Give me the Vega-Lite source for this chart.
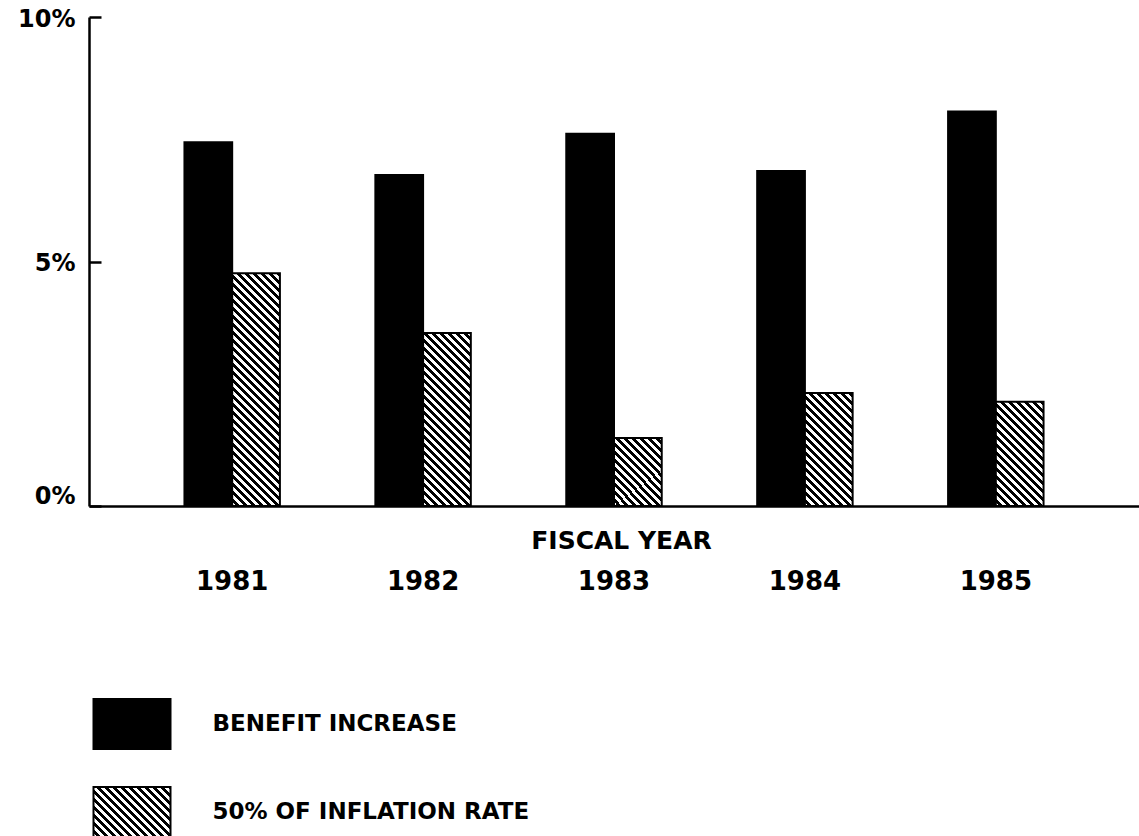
{
  "$schema": "https://vega.github.io/schema/vega-lite/v6.json",
  "width": 1050,
  "height": 489,
  "autosize": {"type": "none"},
  "padding": {"left": 89, "top": 17, "right": 0, "bottom": 330},
  "background": "white",
  "config": {"view": {"stroke": null}},
  "data": {
    "values": [
      {"year": "1981", "series": "BENEFIT INCREASE", "value": 7.44},
      {"year": "1981", "series": "50% OF INFLATION RATE", "value": 4.76},
      {"year": "1982", "series": "BENEFIT INCREASE", "value": 6.77},
      {"year": "1982", "series": "50% OF INFLATION RATE", "value": 3.54},
      {"year": "1983", "series": "BENEFIT INCREASE", "value": 7.61},
      {"year": "1983", "series": "50% OF INFLATION RATE", "value": 1.39},
      {"year": "1984", "series": "BENEFIT INCREASE", "value": 6.85},
      {"year": "1984", "series": "50% OF INFLATION RATE", "value": 2.31},
      {"year": "1985", "series": "BENEFIT INCREASE", "value": 8.07},
      {"year": "1985", "series": "50% OF INFLATION RATE", "value": 2.13}
    ]
  },
  "mark": {"type": "bar", "stroke": "black", "strokeWidth": 2},
  "encoding": {
    "x": {
      "field": "year", "type": "nominal",
      "scale": {"paddingInner": 0.5, "paddingOuter": 0.5},
      "axis": {
        "title": "FISCAL YEAR", "titleFont": "DejaVu Sans", "titleFontSize": 25, "titleFontWeight": "bold", "titleColor": "black",
        "titleY": 42, "titleX": 532, "titleBaseline": "alphabetic",
        "labelAngle": 0, "labelFont": "DejaVu Sans", "labelFontSize": 26, "labelFontWeight": "bold", "labelColor": "black",
        "labelBaseline": "alphabetic", "labelPadding": 83,
        "ticks": false, "tickSize": 0, "domainColor": "black", "domainWidth": 2.5, "grid": false
      }
    },
    "xOffset": {"field": "series", "type": "nominal", "scale": {"domain": ["BENEFIT INCREASE", "50% OF INFLATION RATE"]}},
    "y": {
      "field": "value", "type": "quantitative",
      "scale": {"domain": [0, 10], "nice": false},
      "axis": {
        "title": null, "values": [0, 5, 10], "labelExpr": "datum.value + '%'",
        "domainColor": "black", "domainWidth": 2.5, "tickColor": "black", "tickWidth": 2.5, "tickSize": -12,
        "labelFont": "DejaVu Sans", "labelFontSize": 24, "labelFontWeight": "bold", "labelColor": "black",
        "labelPadding": 26, "grid": false,
        "labelOffset": {"condition": {"test": "datum.value === 0", "value": -10}, "value": 2}
      }
    },
    "fill": {
      "field": "series", "type": "nominal",
      "scale": {
        "domain": ["BENEFIT INCREASE", "50% OF INFLATION RATE"],
        "range": ["black", {"expr": "{gradient:'linear',x1:0,y1:1,x2:1.4616,y2:0.0509,stops:[{offset:0,color:'#fff'},{offset:0.025,color:'#fff'},{offset:0.025,color:'#000'},{offset:0.05,color:'#000'},{offset:0.05,color:'#fff'},{offset:0.075,color:'#fff'},{offset:0.075,color:'#000'},{offset:0.1,color:'#000'},{offset:0.1,color:'#fff'},{offset:0.125,color:'#fff'},{offset:0.125,color:'#000'},{offset:0.15,color:'#000'},{offset:0.15,color:'#fff'},{offset:0.175,color:'#fff'},{offset:0.175,color:'#000'},{offset:0.2,color:'#000'},{offset:0.2,color:'#fff'},{offset:0.225,color:'#fff'},{offset:0.225,color:'#000'},{offset:0.25,color:'#000'},{offset:0.25,color:'#fff'},{offset:0.275,color:'#fff'},{offset:0.275,color:'#000'},{offset:0.3,color:'#000'},{offset:0.3,color:'#fff'},{offset:0.325,color:'#fff'},{offset:0.325,color:'#000'},{offset:0.35,color:'#000'},{offset:0.35,color:'#fff'},{offset:0.375,color:'#fff'},{offset:0.375,color:'#000'},{offset:0.4,color:'#000'},{offset:0.4,color:'#fff'},{offset:0.425,color:'#fff'},{offset:0.425,color:'#000'},{offset:0.45,color:'#000'},{offset:0.45,color:'#fff'},{offset:0.475,color:'#fff'},{offset:0.475,color:'#000'},{offset:0.5,color:'#000'},{offset:0.5,color:'#fff'},{offset:0.525,color:'#fff'},{offset:0.525,color:'#000'},{offset:0.55,color:'#000'},{offset:0.55,color:'#fff'},{offset:0.575,color:'#fff'},{offset:0.575,color:'#000'},{offset:0.6,color:'#000'},{offset:0.6,color:'#fff'},{offset:0.625,color:'#fff'},{offset:0.625,color:'#000'},{offset:0.65,color:'#000'},{offset:0.65,color:'#fff'},{offset:0.675,color:'#fff'},{offset:0.675,color:'#000'},{offset:0.7,color:'#000'},{offset:0.7,color:'#fff'},{offset:0.725,color:'#fff'},{offset:0.725,color:'#000'},{offset:0.75,color:'#000'},{offset:0.75,color:'#fff'},{offset:0.775,color:'#fff'},{offset:0.775,color:'#000'},{offset:0.8,color:'#000'},{offset:0.8,color:'#fff'},{offset:0.825,color:'#fff'},{offset:0.825,color:'#000'},{offset:0.85,color:'#000'}]}"}]
      },
      "condition": [
        {"test": "datum.series === '50% OF INFLATION RATE' && datum.year === '1981'",
         "value": {"gradient": "linear", "x1": 0, "y1": 1, "x2": 0.2705, "y2": -0.3191, "stops": [
          {"offset":0,"color":"#fff"},{"offset":0.0125,"color":"#fff"},{"offset":0.0125,"color":"#000"},{"offset":0.025,"color":"#000"},
          {"offset":0.025,"color":"#fff"},{"offset":0.0375,"color":"#fff"},{"offset":0.0375,"color":"#000"},{"offset":0.05,"color":"#000"},
          {"offset":0.05,"color":"#fff"},{"offset":0.0625,"color":"#fff"},{"offset":0.0625,"color":"#000"},{"offset":0.075,"color":"#000"},
          {"offset":0.075,"color":"#fff"},{"offset":0.0875,"color":"#fff"},{"offset":0.0875,"color":"#000"},{"offset":0.1,"color":"#000"},
          {"offset":0.1,"color":"#fff"},{"offset":0.1125,"color":"#fff"},{"offset":0.1125,"color":"#000"},{"offset":0.125,"color":"#000"},
          {"offset":0.125,"color":"#fff"},{"offset":0.1375,"color":"#fff"},{"offset":0.1375,"color":"#000"},{"offset":0.15,"color":"#000"},
          {"offset":0.15,"color":"#fff"},{"offset":0.1625,"color":"#fff"},{"offset":0.1625,"color":"#000"},{"offset":0.175,"color":"#000"},
          {"offset":0.175,"color":"#fff"},{"offset":0.1875,"color":"#fff"},{"offset":0.1875,"color":"#000"},{"offset":0.2,"color":"#000"},
          {"offset":0.2,"color":"#fff"},{"offset":0.2125,"color":"#fff"},{"offset":0.2125,"color":"#000"},{"offset":0.225,"color":"#000"},
          {"offset":0.225,"color":"#fff"},{"offset":0.2375,"color":"#fff"},{"offset":0.2375,"color":"#000"},{"offset":0.25,"color":"#000"},
          {"offset":0.25,"color":"#fff"},{"offset":0.2625,"color":"#fff"},{"offset":0.2625,"color":"#000"},{"offset":0.275,"color":"#000"},
          {"offset":0.275,"color":"#fff"},{"offset":0.2875,"color":"#fff"},{"offset":0.2875,"color":"#000"},{"offset":0.3,"color":"#000"},
          {"offset":0.3,"color":"#fff"},{"offset":0.3125,"color":"#fff"},{"offset":0.3125,"color":"#000"},{"offset":0.325,"color":"#000"},
          {"offset":0.325,"color":"#fff"},{"offset":0.3375,"color":"#fff"},{"offset":0.3375,"color":"#000"},{"offset":0.35,"color":"#000"},
          {"offset":0.35,"color":"#fff"},{"offset":0.3625,"color":"#fff"},{"offset":0.3625,"color":"#000"},{"offset":0.375,"color":"#000"},
          {"offset":0.375,"color":"#fff"},{"offset":0.3875,"color":"#fff"},{"offset":0.3875,"color":"#000"},{"offset":0.4,"color":"#000"},
          {"offset":0.4,"color":"#fff"},{"offset":0.4125,"color":"#fff"},{"offset":0.4125,"color":"#000"},{"offset":0.425,"color":"#000"},
          {"offset":0.425,"color":"#fff"},{"offset":0.4375,"color":"#fff"},{"offset":0.4375,"color":"#000"},{"offset":0.45,"color":"#000"},
          {"offset":0.45,"color":"#fff"},{"offset":0.4625,"color":"#fff"},{"offset":0.4625,"color":"#000"},{"offset":0.475,"color":"#000"},
          {"offset":0.475,"color":"#fff"},{"offset":0.4875,"color":"#fff"},{"offset":0.4875,"color":"#000"},{"offset":0.5,"color":"#000"},
          {"offset":0.5,"color":"#fff"},{"offset":0.5125,"color":"#fff"},{"offset":0.5125,"color":"#000"},{"offset":0.525,"color":"#000"},
          {"offset":0.525,"color":"#fff"},{"offset":0.5375,"color":"#fff"},{"offset":0.5375,"color":"#000"},{"offset":0.55,"color":"#000"},
          {"offset":0.55,"color":"#fff"},{"offset":0.5625,"color":"#fff"},{"offset":0.5625,"color":"#000"},{"offset":0.575,"color":"#000"},
          {"offset":0.575,"color":"#fff"},{"offset":0.5875,"color":"#fff"},{"offset":0.5875,"color":"#000"},{"offset":0.6,"color":"#000"},
          {"offset":0.6,"color":"#fff"},{"offset":0.6125,"color":"#fff"},{"offset":0.6125,"color":"#000"},{"offset":0.625,"color":"#000"},
          {"offset":0.625,"color":"#fff"},{"offset":0.6375,"color":"#fff"},{"offset":0.6375,"color":"#000"},{"offset":0.65,"color":"#000"},
          {"offset":0.65,"color":"#fff"},{"offset":0.6625,"color":"#fff"},{"offset":0.6625,"color":"#000"},{"offset":0.675,"color":"#000"},
          {"offset":0.675,"color":"#fff"},{"offset":0.6875,"color":"#fff"},{"offset":0.6875,"color":"#000"},{"offset":0.7,"color":"#000"},
          {"offset":0.7,"color":"#fff"},{"offset":0.7125,"color":"#fff"},{"offset":0.7125,"color":"#000"},{"offset":0.725,"color":"#000"},
          {"offset":0.725,"color":"#fff"},{"offset":0.7375,"color":"#fff"},{"offset":0.7375,"color":"#000"},{"offset":0.75,"color":"#000"},
          {"offset":0.75,"color":"#fff"},{"offset":0.7625,"color":"#fff"},{"offset":0.7625,"color":"#000"},{"offset":0.775,"color":"#000"},
          {"offset":0.775,"color":"#fff"},{"offset":0.7875,"color":"#fff"},{"offset":0.7875,"color":"#000"},{"offset":0.8,"color":"#000"},
          {"offset":0.8,"color":"#fff"},{"offset":0.8125,"color":"#fff"},{"offset":0.8125,"color":"#000"},{"offset":0.825,"color":"#000"},
          {"offset":0.825,"color":"#fff"},{"offset":0.8375,"color":"#fff"},{"offset":0.8375,"color":"#000"},{"offset":0.85,"color":"#000"},
          {"offset":0.85,"color":"#fff"},{"offset":0.8625,"color":"#fff"},{"offset":0.8625,"color":"#000"},{"offset":0.875,"color":"#000"},
          {"offset":0.875,"color":"#fff"},{"offset":0.8875,"color":"#fff"},{"offset":0.8875,"color":"#000"},{"offset":0.9,"color":"#000"}
         ]}},
        {"test": "datum.series === '50% OF INFLATION RATE' && datum.year === '1982'",
         "value": {"gradient": "linear", "x1": 0, "y1": 1, "x2": 0.4737, "y2": -0.718, "stops": [
          {"offset":0,"color":"#fff"},{"offset":0.0125,"color":"#fff"},{"offset":0.0125,"color":"#000"},{"offset":0.025,"color":"#000"},
          {"offset":0.025,"color":"#fff"},{"offset":0.0375,"color":"#fff"},{"offset":0.0375,"color":"#000"},{"offset":0.05,"color":"#000"},
          {"offset":0.05,"color":"#fff"},{"offset":0.0625,"color":"#fff"},{"offset":0.0625,"color":"#000"},{"offset":0.075,"color":"#000"},
          {"offset":0.075,"color":"#fff"},{"offset":0.0875,"color":"#fff"},{"offset":0.0875,"color":"#000"},{"offset":0.1,"color":"#000"},
          {"offset":0.1,"color":"#fff"},{"offset":0.1125,"color":"#fff"},{"offset":0.1125,"color":"#000"},{"offset":0.125,"color":"#000"},
          {"offset":0.125,"color":"#fff"},{"offset":0.1375,"color":"#fff"},{"offset":0.1375,"color":"#000"},{"offset":0.15,"color":"#000"},
          {"offset":0.15,"color":"#fff"},{"offset":0.1625,"color":"#fff"},{"offset":0.1625,"color":"#000"},{"offset":0.175,"color":"#000"},
          {"offset":0.175,"color":"#fff"},{"offset":0.1875,"color":"#fff"},{"offset":0.1875,"color":"#000"},{"offset":0.2,"color":"#000"},
          {"offset":0.2,"color":"#fff"},{"offset":0.2125,"color":"#fff"},{"offset":0.2125,"color":"#000"},{"offset":0.225,"color":"#000"},
          {"offset":0.225,"color":"#fff"},{"offset":0.2375,"color":"#fff"},{"offset":0.2375,"color":"#000"},{"offset":0.25,"color":"#000"},
          {"offset":0.25,"color":"#fff"},{"offset":0.2625,"color":"#fff"},{"offset":0.2625,"color":"#000"},{"offset":0.275,"color":"#000"},
          {"offset":0.275,"color":"#fff"},{"offset":0.2875,"color":"#fff"},{"offset":0.2875,"color":"#000"},{"offset":0.3,"color":"#000"},
          {"offset":0.3,"color":"#fff"},{"offset":0.3125,"color":"#fff"},{"offset":0.3125,"color":"#000"},{"offset":0.325,"color":"#000"},
          {"offset":0.325,"color":"#fff"},{"offset":0.3375,"color":"#fff"},{"offset":0.3375,"color":"#000"},{"offset":0.35,"color":"#000"},
          {"offset":0.35,"color":"#fff"},{"offset":0.3625,"color":"#fff"},{"offset":0.3625,"color":"#000"},{"offset":0.375,"color":"#000"},
          {"offset":0.375,"color":"#fff"},{"offset":0.3875,"color":"#fff"},{"offset":0.3875,"color":"#000"},{"offset":0.4,"color":"#000"},
          {"offset":0.4,"color":"#fff"},{"offset":0.4125,"color":"#fff"},{"offset":0.4125,"color":"#000"},{"offset":0.425,"color":"#000"},
          {"offset":0.425,"color":"#fff"},{"offset":0.4375,"color":"#fff"},{"offset":0.4375,"color":"#000"},{"offset":0.45,"color":"#000"},
          {"offset":0.45,"color":"#fff"},{"offset":0.4625,"color":"#fff"},{"offset":0.4625,"color":"#000"},{"offset":0.475,"color":"#000"},
          {"offset":0.475,"color":"#fff"},{"offset":0.4875,"color":"#fff"},{"offset":0.4875,"color":"#000"},{"offset":0.5,"color":"#000"},
          {"offset":0.5,"color":"#fff"},{"offset":0.5125,"color":"#fff"},{"offset":0.5125,"color":"#000"},{"offset":0.525,"color":"#000"},
          {"offset":0.525,"color":"#fff"},{"offset":0.5375,"color":"#fff"},{"offset":0.5375,"color":"#000"},{"offset":0.55,"color":"#000"},
          {"offset":0.55,"color":"#fff"},{"offset":0.5625,"color":"#fff"},{"offset":0.5625,"color":"#000"},{"offset":0.575,"color":"#000"},
          {"offset":0.575,"color":"#fff"},{"offset":0.5875,"color":"#fff"},{"offset":0.5875,"color":"#000"},{"offset":0.6,"color":"#000"},
          {"offset":0.6,"color":"#fff"},{"offset":0.6125,"color":"#fff"},{"offset":0.6125,"color":"#000"},{"offset":0.625,"color":"#000"},
          {"offset":0.625,"color":"#fff"},{"offset":0.6375,"color":"#fff"},{"offset":0.6375,"color":"#000"},{"offset":0.65,"color":"#000"},
          {"offset":0.65,"color":"#fff"},{"offset":0.6625,"color":"#fff"},{"offset":0.6625,"color":"#000"},{"offset":0.675,"color":"#000"},
          {"offset":0.675,"color":"#fff"},{"offset":0.6875,"color":"#fff"},{"offset":0.6875,"color":"#000"},{"offset":0.7,"color":"#000"},
          {"offset":0.7,"color":"#fff"},{"offset":0.7125,"color":"#fff"},{"offset":0.7125,"color":"#000"},{"offset":0.725,"color":"#000"},
          {"offset":0.725,"color":"#fff"},{"offset":0.7375,"color":"#fff"},{"offset":0.7375,"color":"#000"},{"offset":0.75,"color":"#000"}
         ]}},
        {"test": "datum.series === '50% OF INFLATION RATE' && datum.year === '1983'",
         "value": {"gradient": "linear", "x1": 0, "y1": 1, "x2": 1.1071, "y2": -0.5766, "stops": [
          {"offset":0,"color":"#fff"},{"offset":0.025,"color":"#fff"},{"offset":0.025,"color":"#000"},{"offset":0.05,"color":"#000"},
          {"offset":0.05,"color":"#fff"},{"offset":0.075,"color":"#fff"},{"offset":0.075,"color":"#000"},{"offset":0.1,"color":"#000"},
          {"offset":0.1,"color":"#fff"},{"offset":0.125,"color":"#fff"},{"offset":0.125,"color":"#000"},{"offset":0.15,"color":"#000"},
          {"offset":0.15,"color":"#fff"},{"offset":0.175,"color":"#fff"},{"offset":0.175,"color":"#000"},{"offset":0.2,"color":"#000"},
          {"offset":0.2,"color":"#fff"},{"offset":0.225,"color":"#fff"},{"offset":0.225,"color":"#000"},{"offset":0.25,"color":"#000"},
          {"offset":0.25,"color":"#fff"},{"offset":0.275,"color":"#fff"},{"offset":0.275,"color":"#000"},{"offset":0.3,"color":"#000"},
          {"offset":0.3,"color":"#fff"},{"offset":0.325,"color":"#fff"},{"offset":0.325,"color":"#000"},{"offset":0.35,"color":"#000"},
          {"offset":0.35,"color":"#fff"},{"offset":0.375,"color":"#fff"},{"offset":0.375,"color":"#000"},{"offset":0.4,"color":"#000"},
          {"offset":0.4,"color":"#fff"},{"offset":0.425,"color":"#fff"},{"offset":0.425,"color":"#000"},{"offset":0.45,"color":"#000"},
          {"offset":0.45,"color":"#fff"},{"offset":0.475,"color":"#fff"},{"offset":0.475,"color":"#000"},{"offset":0.5,"color":"#000"},
          {"offset":0.5,"color":"#fff"},{"offset":0.525,"color":"#fff"},{"offset":0.525,"color":"#000"},{"offset":0.55,"color":"#000"},
          {"offset":0.55,"color":"#fff"},{"offset":0.575,"color":"#fff"},{"offset":0.575,"color":"#000"},{"offset":0.6,"color":"#000"},
          {"offset":0.6,"color":"#fff"},{"offset":0.625,"color":"#fff"},{"offset":0.625,"color":"#000"},{"offset":0.65,"color":"#000"},
          {"offset":0.65,"color":"#fff"},{"offset":0.675,"color":"#fff"},{"offset":0.675,"color":"#000"},{"offset":0.7,"color":"#000"},
          {"offset":0.7,"color":"#fff"},{"offset":0.725,"color":"#fff"},{"offset":0.725,"color":"#000"},{"offset":0.75,"color":"#000"},
          {"offset":0.75,"color":"#fff"},{"offset":0.775,"color":"#fff"},{"offset":0.775,"color":"#000"},{"offset":0.8,"color":"#000"}
         ]}},
        {"test": "datum.series === '50% OF INFLATION RATE' && datum.year === '1984'",
         "value": {"gradient": "linear", "x1": 0, "y1": 1, "x2": 0.5078, "y2": -0.2019, "stops": [
          {"offset":0,"color":"#fff"},{"offset":0.025,"color":"#fff"},{"offset":0.025,"color":"#000"},{"offset":0.05,"color":"#000"},
          {"offset":0.05,"color":"#fff"},{"offset":0.075,"color":"#fff"},{"offset":0.075,"color":"#000"},{"offset":0.1,"color":"#000"},
          {"offset":0.1,"color":"#fff"},{"offset":0.125,"color":"#fff"},{"offset":0.125,"color":"#000"},{"offset":0.15,"color":"#000"},
          {"offset":0.15,"color":"#fff"},{"offset":0.175,"color":"#fff"},{"offset":0.175,"color":"#000"},{"offset":0.2,"color":"#000"},
          {"offset":0.2,"color":"#fff"},{"offset":0.225,"color":"#fff"},{"offset":0.225,"color":"#000"},{"offset":0.25,"color":"#000"},
          {"offset":0.25,"color":"#fff"},{"offset":0.275,"color":"#fff"},{"offset":0.275,"color":"#000"},{"offset":0.3,"color":"#000"},
          {"offset":0.3,"color":"#fff"},{"offset":0.325,"color":"#fff"},{"offset":0.325,"color":"#000"},{"offset":0.35,"color":"#000"},
          {"offset":0.35,"color":"#fff"},{"offset":0.375,"color":"#fff"},{"offset":0.375,"color":"#000"},{"offset":0.4,"color":"#000"},
          {"offset":0.4,"color":"#fff"},{"offset":0.425,"color":"#fff"},{"offset":0.425,"color":"#000"},{"offset":0.45,"color":"#000"},
          {"offset":0.45,"color":"#fff"},{"offset":0.475,"color":"#fff"},{"offset":0.475,"color":"#000"},{"offset":0.5,"color":"#000"},
          {"offset":0.5,"color":"#fff"},{"offset":0.525,"color":"#fff"},{"offset":0.525,"color":"#000"},{"offset":0.55,"color":"#000"},
          {"offset":0.55,"color":"#fff"},{"offset":0.575,"color":"#fff"},{"offset":0.575,"color":"#000"},{"offset":0.6,"color":"#000"},
          {"offset":0.6,"color":"#fff"},{"offset":0.625,"color":"#fff"},{"offset":0.625,"color":"#000"},{"offset":0.65,"color":"#000"},
          {"offset":0.65,"color":"#fff"},{"offset":0.675,"color":"#fff"},{"offset":0.675,"color":"#000"},{"offset":0.7,"color":"#000"},
          {"offset":0.7,"color":"#fff"},{"offset":0.725,"color":"#fff"},{"offset":0.725,"color":"#000"},{"offset":0.75,"color":"#000"},
          {"offset":0.75,"color":"#fff"},{"offset":0.775,"color":"#fff"},{"offset":0.775,"color":"#000"},{"offset":0.8,"color":"#000"},
          {"offset":0.8,"color":"#fff"},{"offset":0.825,"color":"#fff"},{"offset":0.825,"color":"#000"},{"offset":0.85,"color":"#000"},
          {"offset":0.85,"color":"#fff"},{"offset":0.875,"color":"#fff"},{"offset":0.875,"color":"#000"},{"offset":0.9,"color":"#000"},
          {"offset":0.9,"color":"#fff"},{"offset":0.925,"color":"#fff"},{"offset":0.925,"color":"#000"},{"offset":0.95,"color":"#000"},
          {"offset":0.95,"color":"#fff"},{"offset":0.975,"color":"#fff"},{"offset":0.975,"color":"#000"},{"offset":1,"color":"#000"}
         ]}},
        {"test": "datum.series === '50% OF INFLATION RATE' && datum.year === '1985'",
         "value": {"gradient": "linear", "x1": 0, "y1": 1, "x2": 0.5818, "y2": -0.2696, "stops": [
          {"offset":0,"color":"#fff"},{"offset":0.025,"color":"#fff"},{"offset":0.025,"color":"#000"},{"offset":0.05,"color":"#000"},
          {"offset":0.05,"color":"#fff"},{"offset":0.075,"color":"#fff"},{"offset":0.075,"color":"#000"},{"offset":0.1,"color":"#000"},
          {"offset":0.1,"color":"#fff"},{"offset":0.125,"color":"#fff"},{"offset":0.125,"color":"#000"},{"offset":0.15,"color":"#000"},
          {"offset":0.15,"color":"#fff"},{"offset":0.175,"color":"#fff"},{"offset":0.175,"color":"#000"},{"offset":0.2,"color":"#000"},
          {"offset":0.2,"color":"#fff"},{"offset":0.225,"color":"#fff"},{"offset":0.225,"color":"#000"},{"offset":0.25,"color":"#000"},
          {"offset":0.25,"color":"#fff"},{"offset":0.275,"color":"#fff"},{"offset":0.275,"color":"#000"},{"offset":0.3,"color":"#000"},
          {"offset":0.3,"color":"#fff"},{"offset":0.325,"color":"#fff"},{"offset":0.325,"color":"#000"},{"offset":0.35,"color":"#000"},
          {"offset":0.35,"color":"#fff"},{"offset":0.375,"color":"#fff"},{"offset":0.375,"color":"#000"},{"offset":0.4,"color":"#000"},
          {"offset":0.4,"color":"#fff"},{"offset":0.425,"color":"#fff"},{"offset":0.425,"color":"#000"},{"offset":0.45,"color":"#000"},
          {"offset":0.45,"color":"#fff"},{"offset":0.475,"color":"#fff"},{"offset":0.475,"color":"#000"},{"offset":0.5,"color":"#000"},
          {"offset":0.5,"color":"#fff"},{"offset":0.525,"color":"#fff"},{"offset":0.525,"color":"#000"},{"offset":0.55,"color":"#000"},
          {"offset":0.55,"color":"#fff"},{"offset":0.575,"color":"#fff"},{"offset":0.575,"color":"#000"},{"offset":0.6,"color":"#000"},
          {"offset":0.6,"color":"#fff"},{"offset":0.625,"color":"#fff"},{"offset":0.625,"color":"#000"},{"offset":0.65,"color":"#000"},
          {"offset":0.65,"color":"#fff"},{"offset":0.675,"color":"#fff"},{"offset":0.675,"color":"#000"},{"offset":0.7,"color":"#000"},
          {"offset":0.7,"color":"#fff"},{"offset":0.725,"color":"#fff"},{"offset":0.725,"color":"#000"},{"offset":0.75,"color":"#000"},
          {"offset":0.75,"color":"#fff"},{"offset":0.775,"color":"#fff"},{"offset":0.775,"color":"#000"},{"offset":0.8,"color":"#000"},
          {"offset":0.8,"color":"#fff"},{"offset":0.825,"color":"#fff"},{"offset":0.825,"color":"#000"},{"offset":0.85,"color":"#000"},
          {"offset":0.85,"color":"#fff"},{"offset":0.875,"color":"#fff"},{"offset":0.875,"color":"#000"},{"offset":0.9,"color":"#000"},
          {"offset":0.9,"color":"#fff"},{"offset":0.925,"color":"#fff"},{"offset":0.925,"color":"#000"},{"offset":0.95,"color":"#000"},
          {"offset":0.95,"color":"#fff"},{"offset":0.975,"color":"#fff"},{"offset":0.975,"color":"#000"},{"offset":1,"color":"#000"}
         ]}}
      ],
      "legend": {
        "title": null, "orient": "none", "legendX": 3.5, "legendY": 667.5, "padding": 0, "direction": "vertical",
        "symbolType": "M-1,-0.65H1V0.65H-1Z", "symbolSize": 5929,
        "symbolStrokeColor": "black", "symbolStrokeWidth": 2,
        "labelFont": "DejaVu Sans", "labelFontSize": 23, "labelFontWeight": "bold", "labelColor": "black",
        "labelOffset": 41, "rowPadding": 19, "labelLimit": 0
      }
    }
  }
}
